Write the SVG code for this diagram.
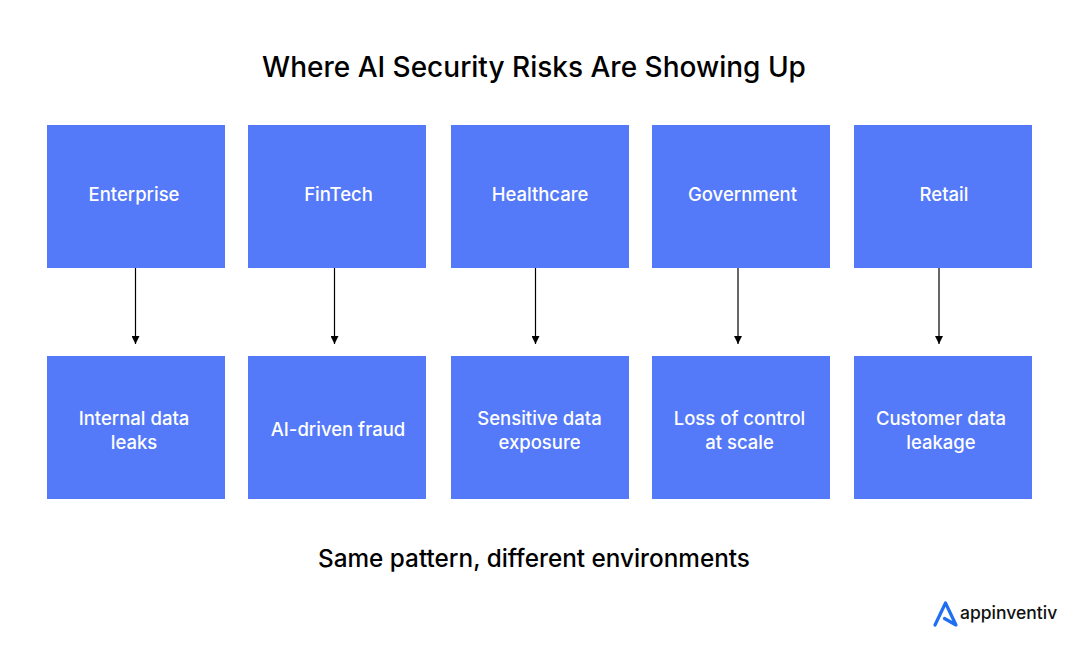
<svg xmlns="http://www.w3.org/2000/svg" width="1080" height="652" viewBox="0 0 1080 652">
<style>
.b{fill:#5479f9}
.t{font-family:Inter,"Noto Sans",sans-serif;font-size:18.500px;font-weight:500;fill:#fff;text-anchor:middle}
.h{font-family:Inter,"Noto Sans",sans-serif;font-weight:500;fill:#000;text-anchor:middle}
.c{stroke:#000;stroke-width:1.200;fill:none;marker-end:url(#a)}
</style>
<defs><marker id="a" markerUnits="userSpaceOnUse" markerWidth="9" markerHeight="8" refX="8" refY="4" orient="auto"><path d="M0 0L8 4L0 8z" fill="#000"/></marker></defs>
<rect width="1080" height="652" fill="#fff"/>
<text id="title" class="h" x="534" y="76.500" font-size="28">Where AI Security Risks Are Showing Up</text>
<g id="n1"><rect class="b" x="47" y="125" width="178" height="143"/><text class="t" x="134" y="201">Enterprise</text></g>
<g id="n2"><rect class="b" x="248" y="125" width="178" height="143"/><text class="t" x="338.500" y="201">FinTech</text></g>
<g id="n3"><rect class="b" x="451" y="125" width="178" height="143"/><text class="t" x="540" y="201">Healthcare</text></g>
<g id="n4"><rect class="b" x="652" y="125" width="178" height="143"/><text class="t" x="742.500" y="201">Government</text></g>
<g id="n5"><rect class="b" x="854" y="125" width="178" height="143"/><text class="t" x="944" y="201">Retail</text></g>
<g id="n6"><rect class="b" x="47" y="356" width="178" height="143"/><text class="t" x="134" y="425">Internal data</text><text class="t" x="134" y="449">leaks</text></g>
<g id="n7"><rect class="b" x="248" y="356" width="178" height="143"/><text class="t" x="338" y="436">AI-driven fraud</text></g>
<g id="n8"><rect class="b" x="451" y="356" width="178" height="143"/><text class="t" x="539.500" y="425">Sensitive data</text><text class="t" x="539.500" y="449">exposure</text></g>
<g id="n9"><rect class="b" x="652" y="356" width="178" height="143"/><text class="t" x="739.500" y="425">Loss of control</text><text class="t" x="739.500" y="449">at scale</text></g>
<g id="n10"><rect class="b" x="854" y="356" width="178" height="143"/><text class="t" x="941" y="425">Customer data</text><text class="t" x="941" y="449">leakage</text></g>
<g id="connectors">
<path class="c" d="M135.500 268V344"/><path class="c" d="M334.500 268V344"/><path class="c" d="M535.500 268V344"/><path class="c" d="M738 268V344"/><path class="c" d="M939 268V344"/>
</g>
<text id="footer" class="h" x="534" y="567" font-size="24.300">Same pattern, different environments</text>
<g id="logo"><path d="M935 625L945.500 603L956 625L944.500 618.500" fill="none" stroke="#1f6ff0" stroke-width="3.200" stroke-linejoin="round" stroke-linecap="round"/><text x="960" y="619" font-family="Inter,sans-serif" font-size="17.500" font-weight="500" fill="#111">appinventiv</text></g>
</svg>
